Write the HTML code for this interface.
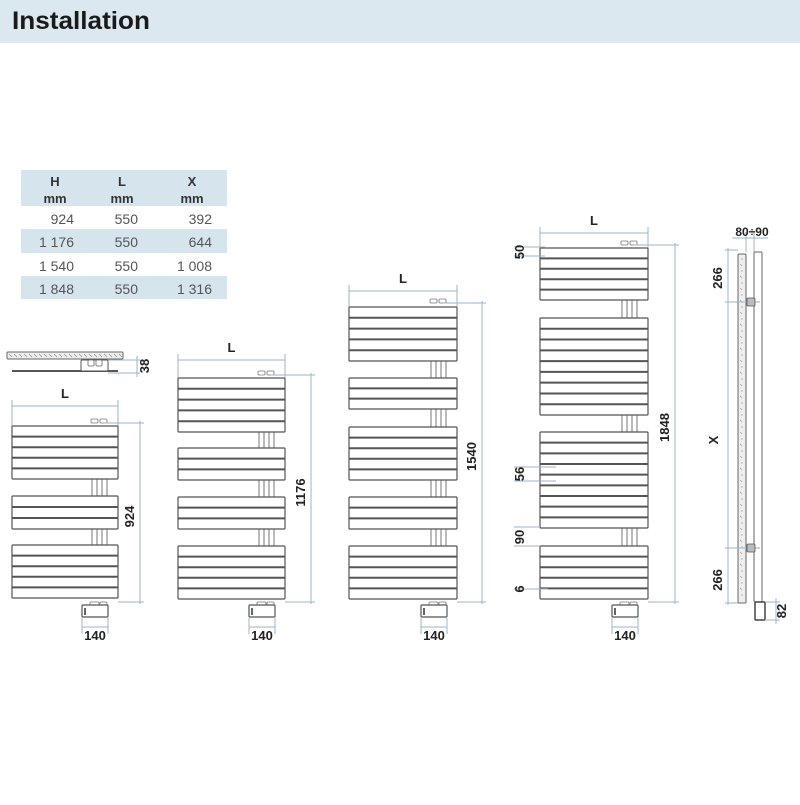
<!DOCTYPE html>
<html><head><meta charset="utf-8"><style>
body{margin:0;width:800px;height:800px;background:#fff;overflow:hidden;font-family:"Liberation Sans",sans-serif}
</style></head><body>
<svg id="s" width="800" height="800" xmlns="http://www.w3.org/2000/svg" font-family="Liberation Sans, sans-serif">
<rect x="0" y="0" width="800" height="43" fill="#dbe8f0"/>
<text x="12" y="29" font-size="25" font-weight="bold" fill="#1a1a1a" textLength="138" lengthAdjust="spacingAndGlyphs">Installation</text>
<rect x="21" y="170" width="206" height="36" fill="#d6e4ee"/>
<rect x="21" y="229" width="206" height="24" fill="#d6e4ee"/>
<rect x="21" y="276" width="206" height="23" fill="#d6e4ee"/>
<g font-size="13" font-weight="bold" fill="#333" text-anchor="middle">
<text x="55" y="186">H</text><text x="122" y="186">L</text><text x="192" y="186">X</text>
<text x="55" y="203">mm</text><text x="122" y="203">mm</text><text x="192" y="203">mm</text>
</g>
<g font-size="14" fill="#555" text-anchor="end">
<text x="74" y="224">924</text><text x="138" y="224">550</text><text x="212" y="224">392</text>
<text x="74" y="247">1 176</text><text x="138" y="247">550</text><text x="212" y="247">644</text>
<text x="74" y="271">1 540</text><text x="138" y="271">550</text><text x="212" y="271">1 008</text>
<text x="74" y="294">1 848</text><text x="138" y="294">550</text><text x="212" y="294">1 316</text>
</g>
<g id="d"></g>
</svg>
<script>
var g=document.getElementById('d'),h='';
var DC='#9bb6cc',PC='#555';
function ln(x1,y1,x2,y2,c,w){h+='<line x1="'+x1+'" y1="'+y1+'" x2="'+x2+'" y2="'+y2+'" stroke="'+(c||DC)+'" stroke-width="'+(w||1)+'"/>';}
function rc(x,y,w,hh,c,f,sw){h+='<rect x="'+x+'" y="'+y+'" width="'+w+'" height="'+hh+'" fill="'+(f||'#fff')+'" stroke="'+(c||PC)+'" stroke-width="'+(sw||1.2)+'" rx="1"/>';}
function tx(x,y,t,rot){h+='<text x="'+x+'" y="'+y+'" font-size="13" font-weight="bold" fill="#222" text-anchor="middle"'+(rot?' transform="rotate(-90 '+x+' '+y+')"':'')+'>'+t+'</text>';}
function rad(x1,x2,groups,Ly,dimX,label,top,bot){
  var w=x2-x1;
  ln(x1,Ly-6,x1,Ly+20);ln(x2,Ly-6,x2,Ly+20);ln(x1,Ly,x2,Ly);tx((x1+x2)/2,Ly-8,'L');
  for(var i=0;i<groups.length-1;i++){var a=groups[i][1],b=groups[i+1][0];
    [x2-26,x2-21,x2-16,x2-11].forEach(function(px){ln(px,a,px,b,'#777',1);});}
  groups.forEach(function(gr){var y=gr[0],hh=gr[1]-gr[0],n=gr[2];rc(x1,y,w,hh);
    for(var k=1;k<n;k++){var yy=y+hh*k/n;ln(x1,yy,x2,yy,PC,2);}});
  rc(x2-27,top-4,7,4,'#777','#fff',0.8);rc(x2-18,top-4,7,4,'#777','#fff',0.8);
  rc(x2-28,bot+2,9,4,'#777','#fff',0.8);rc(x2-18,bot+2,7,4,'#777','#fff',0.8);
  rc(x2-36,bot+5,26,12,'#555','#fff',1.2);ln(x2-33,bot+8,x2-33,bot+15,'#333',1.5);
  ln(x2-14,top,dimX+4,top);ln(x2,bot+2,dimX+4,bot+2);ln(dimX,top-2,dimX,bot+4);
  tx(dimX-6,(top+bot)/2+5,label,1);
  ln(x2-36,bot+18,x2-36,bot+34);ln(x2-10,bot+18,x2-10,bot+34);ln(x2-36,bot+27,x2-10,bot+27);
  tx(x2-23,bot+40,'140');
}
rad(12,118,[[426,479,5],[496,529,3],[545,598,5]],406,140,'924',423,600);
rad(178,285,[[378,432,5],[448,480,3],[497,529,3],[546,599,5]],360,311,'1176',375,600);
rad(349,457,[[307,361,5],[378,409,3],[427,480,5],[497,529,3],[546,599,5]],291,482,'1540',303,600);
rad(540,648,[[248,300,5],[318,415,9],[432,528,9],[546,599,5]],233,675,'1848',245,600);
rc(7,352,116,7,'#666','#eee',1);
for(var i=9;i<121;i+=5)ln(i,354,i+3,357,'#888',0.6);
ln(12,371,118,371,'#555',2);rc(81,360,27,11,'#555','#fff',1);rc(88,360,6,6,'#666','#fff',0.8);rc(96,360,6,6,'#666','#fff',0.8);
ln(108,360,140,360);ln(108,373,140,373);ln(137,356,137,377);tx(149,366,'38',1);
ln(514,247,545,247);ln(514,256,545,256);tx(524,252,'50',1);
ln(514,467,556,467);ln(514,481,556,481);tx(524,474,'56',1);
ln(514,527,540,527);ln(514,546,540,546);tx(524,537,'90',1);
ln(514,589,548,589);tx(524,589,'6',1);
rc(738,254,8,349,'#666','#eee',1);
for(var y=258;y<600;y+=6)ln(740+(y%4),y,742+(y%3),y+2,'#999',0.6);
rc(754,252,8,350,'#666','#fff',1);
ln(746,252,746,232);ln(754,252,754,232);ln(732,238,768,238);
h+='<text x="752" y="236" font-size="12" font-weight="bold" fill="#222" text-anchor="middle">80÷90</text>';
ln(725,250,738,250);ln(725,302,760,302);ln(725,548,760,548);ln(725,603,738,603);ln(728,248,728,605);
rc(747,298,8,8,'#555','#bbb',0.8);rc(747,544,8,8,'#555','#bbb',0.8);
tx(722,278,'266',1);tx(722,580,'266',1);tx(718,440,'X',1);
rc(755,602,10,18,'#444','#fff',1.5);
ln(765,602,780,602);ln(765,620,780,620);ln(776,598,776,624);tx(786,611,'82',1);
g.innerHTML=h;
</script>
</body></html>
